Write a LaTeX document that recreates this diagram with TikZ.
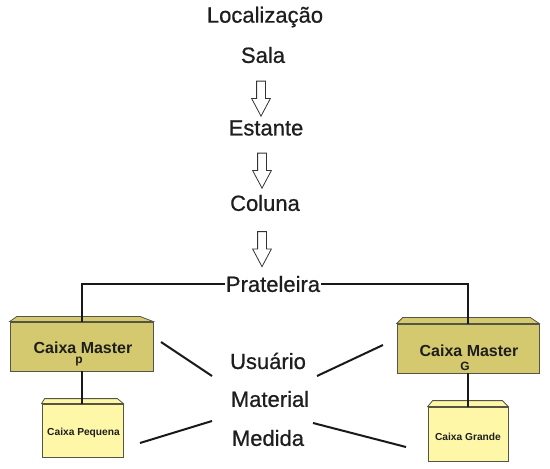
\documentclass[tikz,border=0pt]{standalone}
\usepackage{fontspec}
\setmainfont{Liberation Sans}
\newfontfamily\medfont[FakeBold=0.7]{Liberation Sans}
\usetikzlibrary{calc,shapes.arrows}
\definecolor{masterfill}{RGB}{213,201,111}
\definecolor{smallfill}{RGB}{255,247,168}
\definecolor{boxedge}{RGB}{85,85,70}
\definecolor{inktext}{RGB}{30,30,30}

\begin{document}
\begin{tikzpicture}[x=0.5pt,y=-0.5pt,
  lvl/.style={text=inktext,font=\medfont\fontsize{11}{13}\selectfont,inner sep=0.5pt},
  harrow/.style={single arrow,draw=black!80,fill=white,thin,shape border rotate=270,
    minimum height=17.5pt,inner sep=2pt,single arrow head extend=2.5pt,single arrow tip angle=56},
  master/.style={draw=boxedge,fill=masterfill,inner sep=0pt},
  small/.style={draw=boxedge,fill=smallfill,inner sep=0pt},
  bigtxt/.style={text=inktext,font=\bfseries\fontsize{8}{9}\selectfont,inner sep=0pt},
  tinytxt/.style={text=inktext,font=\bfseries\fontsize{5.1}{6}\selectfont,inner sep=0pt},
  link/.style={line width=1pt,black!90}]
\useasboundingbox (0,0) rectangle (550,469);
% location chain
\node[lvl] (loc) at (265,17) {Localização};
\node[lvl] (sala) at (263,55) {Sala};
\node[lvl] (estante) at (266,128) {Estante};
\node[lvl] (coluna) at (265,203) {Coluna};
\node[lvl] (prat) at (273,284) {Prateleira};
\node[harrow] (a1) at (261,94.5) {};
\node[harrow] (a2) at (262,166.5) {};
\node[harrow] (a3) at (262,245) {};
% boxes
\node[master,minimum width=71.5pt,minimum height=24.5pt] (cmp) at (81.5,346.5) {};
\draw[master] (cmp.north west) -- ++(7,-5) -- ($(cmp.north east)+(-13,-5)$) -- (cmp.north east) -- cycle;
\node[master,minimum width=71pt,minimum height=24.5pt] (cmg) at (468,348.5) {};
\draw[master] (cmg.north west) -- ++(6,-6) -- ($(cmg.north east)+(-9,-6)$) -- (cmg.north east) -- cycle;
\node[small,minimum width=40.5pt,minimum height=26.5pt] (cpq) at (82.5,430.5) {};
\draw[small] (cpq.north west) -- ++(3,-5) -- ($(cpq.north east)+(-6,-5)$) -- (cpq.north east) -- cycle;
\node[small,minimum width=40pt,minimum height=27pt] (cgr) at (468,434) {};
\draw[small] (cgr.north west) -- ++(5,-6) -- ($(cgr.north east)+(-6,-6)$) -- (cgr.north east) -- cycle;
\node[bigtxt] (cmpt) at (83,348) {Caixa Master};
\node[bigtxt,font=\bfseries\fontsize{6}{7}\selectfont] (cmpl) at (79,362) {p};
\node[bigtxt] (cmgt) at (469,351) {Caixa Master};
\node[bigtxt,font=\bfseries\fontsize{6}{7}\selectfont] (cmgl) at (465,366) {G};
\node[tinytxt] (cpqt) at (83.5,432.5) {Caixa Pequena};
\node[tinytxt] (cgrt) at (468,437) {Caixa Grande};
% shelf links
\draw[link] (prat.west) -| (cmp.north);
\draw[link] (prat.east) -| (cmg.north);
\draw[link] (cmp.south) -- (cmp.south |- cpq.north);
\draw[link] (cmg.south) -- (cmg.south |- cgr.north);
% attributes
\node[lvl] (usuario) at (268,361) {Usuário};
\node[lvl] (material) at (270,399) {Material};
\node[lvl] (medida) at (268,438) {Medida};
\coordinate (lu1) at (161,342); \coordinate (lu2) at (212,376);
\coordinate (ll1) at (140,443); \coordinate (ll2) at (212,421);
\coordinate (ru1) at (383,345); \coordinate (ru2) at (317,376);
\coordinate (rl1) at (406,447); \coordinate (rl2) at (313,423);
\draw[link] (lu1) -- (lu2);
\draw[link] (ll1) -- (ll2);
\draw[link] (ru1) -- (ru2);
\draw[link] (rl1) -- (rl2);
\end{tikzpicture}
\end{document}
